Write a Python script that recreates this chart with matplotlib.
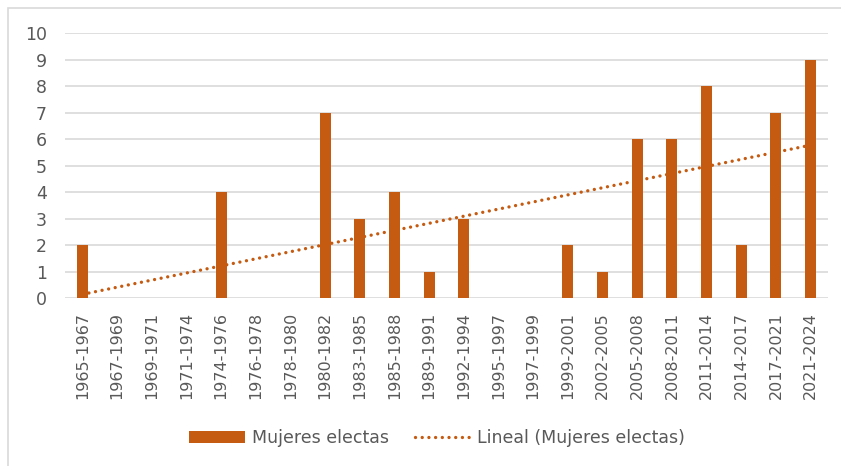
import numpy as np
import matplotlib
matplotlib.use("Agg")
import matplotlib.pyplot as plt
from matplotlib.patches import Rectangle

# periodos legislativos y mujeres electas
periodos = ["1965-1967", "1967-1969", "1969-1971", "1971-1974", "1974-1976",
            "1976-1978", "1978-1980", "1980-1982", "1983-1985", "1985-1988",
            "1989-1991", "1992-1994", "1995-1997", "1997-1999", "1999-2001",
            "2002-2005", "2005-2008", "2008-2011", "2011-2014", "2014-2017",
            "2017-2021", "2021-2024"]
mujeres = [2, 0, 0, 0, 4, 0, 0, 7, 3, 4, 1, 3, 0, 0, 2, 1, 6, 6, 8, 2, 7, 9]
y_ticks = list(range(0, 11))

color = "#C55A11"
gris = "#595959"

fig = plt.figure(figsize=(8.41, 4.66), dpi=100)
fig.patches.append(Rectangle((8 / 841, -0.1), 1.2, 1 - 8 / 466 + 0.1,
                             transform=fig.transFigure, fill=False,
                             edgecolor="#D9D9D9", linewidth=1.2))

ax = fig.add_axes([0.0773, 0.3605, 0.9072, 0.5685])
x = np.arange(len(periodos))
barras = ax.bar(x, mujeres, width=0.32, color=color, zorder=3)

# linea de tendencia (ajuste lineal, como Excel)
m, b = np.polyfit(x, mujeres, 1)
linea, = ax.plot(x, m * x + b, color=color, linestyle=(0, (0.01, 2.0)), linewidth=2.4,
                 dash_capstyle="round", zorder=4)

ax.set_xlim(-0.5, len(periodos) - 0.5)
ax.set_ylim(0, 10)
ax.set_yticks(y_ticks)
ax.set_xticks(x)
ax.set_xticklabels(periodos, rotation=90, fontsize=11.5, color=gris)
ax.tick_params(axis="y", labelsize=12.5, colors=gris, length=0, pad=13)
ax.tick_params(axis="x", length=0, pad=10)
ax.grid(axis="y", color="#D9D9D9", linewidth=1.2, zorder=0)
for s in ax.spines.values():
    s.set_visible(False)

leg = fig.legend([barras, linea], ["Mujeres electas", "Lineal (Mujeres electas)"],
                 loc="center", bbox_to_anchor=(0.52, 0.06), ncol=2, frameon=False,
                 fontsize=12.5, handlelength=3.2, handleheight=0.7, columnspacing=1.5,
                 handletextpad=0.4)
for t in leg.get_texts():
    t.set_color(gris)

fig.savefig("out.png", dpi=100)
